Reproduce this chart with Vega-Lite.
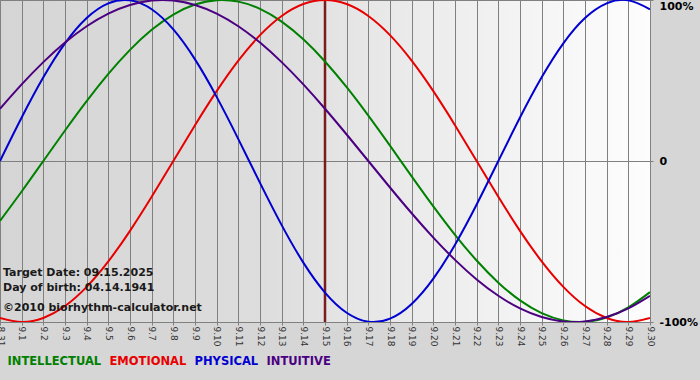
{
  "$schema": "https://vega.github.io/schema/vega-lite/v6.json",
  "width": 650,
  "height": 322,
  "autosize": {"type": "none"},
  "padding": {"left": 0, "top": 0, "right": 50, "bottom": 58},
  "background": "#d6d6d6",
  "config": {
    "view": {
      "stroke": "#808080",
      "strokeWidth": 1,
      "fill": {"gradient": "linear", "x1": 0, "y1": 0, "x2": 1, "y2": 0, "stops": [
        {"offset": 0, "color": "#d5d5d5"},
        {"offset": 0.4, "color": "#dddddd"},
        {"offset": 0.6, "color": "#e9e9e9"},
        {"offset": 0.85, "color": "#f6f6f6"},
        {"offset": 1, "color": "#fdfdfd"}
      ]}
    },
    "font": "DejaVu Sans"
  },
  "datasets": {
    "bio": [
      {"day":0,"cycle":"INTELLECTUAL","value":-0.3717},{"day":0,"cycle":"EMOTIONAL","value":-0.9749},{"day":0,"cycle":"PHYSICAL","value":0},{"day":0,"cycle":"INTUITIVE","value":0.3247},
      {"day":1,"cycle":"INTELLECTUAL","value":-0.1893},{"day":1,"cycle":"EMOTIONAL","value":-1},{"day":1,"cycle":"PHYSICAL","value":0.2698},{"day":1,"cycle":"INTUITIVE","value":0.4759},
      {"day":2,"cycle":"INTELLECTUAL","value":0},{"day":2,"cycle":"EMOTIONAL","value":-0.9749},{"day":2,"cycle":"PHYSICAL","value":0.5196},{"day":2,"cycle":"INTUITIVE","value":0.6142},
      {"day":3,"cycle":"INTELLECTUAL","value":0.1893},{"day":3,"cycle":"EMOTIONAL","value":-0.9010},{"day":3,"cycle":"PHYSICAL","value":0.7308},{"day":3,"cycle":"INTUITIVE","value":0.7357},
      {"day":4,"cycle":"INTELLECTUAL","value":0.3717},{"day":4,"cycle":"EMOTIONAL","value":-0.7818},{"day":4,"cycle":"PHYSICAL","value":0.8879},{"day":4,"cycle":"INTUITIVE","value":0.8372},
      {"day":5,"cycle":"INTELLECTUAL","value":0.5406},{"day":5,"cycle":"EMOTIONAL","value":-0.6235},{"day":5,"cycle":"PHYSICAL","value":0.9791},{"day":5,"cycle":"INTUITIVE","value":0.9158},
      {"day":6,"cycle":"INTELLECTUAL","value":0.6901},{"day":6,"cycle":"EMOTIONAL","value":-0.4339},{"day":6,"cycle":"PHYSICAL","value":0.9977},{"day":6,"cycle":"INTUITIVE","value":0.9694},
      {"day":7,"cycle":"INTELLECTUAL","value":0.8146},{"day":7,"cycle":"EMOTIONAL","value":-0.2225},{"day":7,"cycle":"PHYSICAL","value":0.9423},{"day":7,"cycle":"INTUITIVE","value":0.9966},
      {"day":8,"cycle":"INTELLECTUAL","value":0.9096},{"day":8,"cycle":"EMOTIONAL","value":0},{"day":8,"cycle":"PHYSICAL","value":0.8170},{"day":8,"cycle":"INTUITIVE","value":0.9966},
      {"day":9,"cycle":"INTELLECTUAL","value":0.9718},{"day":9,"cycle":"EMOTIONAL","value":0.2225},{"day":9,"cycle":"PHYSICAL","value":0.6311},{"day":9,"cycle":"INTUITIVE","value":0.9694},
      {"day":10,"cycle":"INTELLECTUAL","value":0.9989},{"day":10,"cycle":"EMOTIONAL","value":0.4339},{"day":10,"cycle":"PHYSICAL","value":0.3984},{"day":10,"cycle":"INTUITIVE","value":0.9158},
      {"day":11,"cycle":"INTELLECTUAL","value":0.9898},{"day":11,"cycle":"EMOTIONAL","value":0.6235},{"day":11,"cycle":"PHYSICAL","value":0.1362},{"day":11,"cycle":"INTUITIVE","value":0.8372},
      {"day":12,"cycle":"INTELLECTUAL","value":0.9450},{"day":12,"cycle":"EMOTIONAL","value":0.7818},{"day":12,"cycle":"PHYSICAL","value":-0.1362},{"day":12,"cycle":"INTUITIVE","value":0.7357},
      {"day":13,"cycle":"INTELLECTUAL","value":0.8660},{"day":13,"cycle":"EMOTIONAL","value":0.9010},{"day":13,"cycle":"PHYSICAL","value":-0.3984},{"day":13,"cycle":"INTUITIVE","value":0.6142},
      {"day":14,"cycle":"INTELLECTUAL","value":0.7557},{"day":14,"cycle":"EMOTIONAL","value":0.9749},{"day":14,"cycle":"PHYSICAL","value":-0.6311},{"day":14,"cycle":"INTUITIVE","value":0.4759},
      {"day":15,"cycle":"INTELLECTUAL","value":0.6182},{"day":15,"cycle":"EMOTIONAL","value":1},{"day":15,"cycle":"PHYSICAL","value":-0.8170},{"day":15,"cycle":"INTUITIVE","value":0.3247},
      {"day":16,"cycle":"INTELLECTUAL","value":0.4582},{"day":16,"cycle":"EMOTIONAL","value":0.9749},{"day":16,"cycle":"PHYSICAL","value":-0.9423},{"day":16,"cycle":"INTUITIVE","value":0.1646},
      {"day":17,"cycle":"INTELLECTUAL","value":0.2817},{"day":17,"cycle":"EMOTIONAL","value":0.9010},{"day":17,"cycle":"PHYSICAL","value":-0.9977},{"day":17,"cycle":"INTUITIVE","value":0},
      {"day":18,"cycle":"INTELLECTUAL","value":0.0951},{"day":18,"cycle":"EMOTIONAL","value":0.7818},{"day":18,"cycle":"PHYSICAL","value":-0.9791},{"day":18,"cycle":"INTUITIVE","value":-0.1646},
      {"day":19,"cycle":"INTELLECTUAL","value":-0.0951},{"day":19,"cycle":"EMOTIONAL","value":0.6235},{"day":19,"cycle":"PHYSICAL","value":-0.8879},{"day":19,"cycle":"INTUITIVE","value":-0.3247},
      {"day":20,"cycle":"INTELLECTUAL","value":-0.2817},{"day":20,"cycle":"EMOTIONAL","value":0.4339},{"day":20,"cycle":"PHYSICAL","value":-0.7308},{"day":20,"cycle":"INTUITIVE","value":-0.4759},
      {"day":21,"cycle":"INTELLECTUAL","value":-0.4582},{"day":21,"cycle":"EMOTIONAL","value":0.2225},{"day":21,"cycle":"PHYSICAL","value":-0.5196},{"day":21,"cycle":"INTUITIVE","value":-0.6142},
      {"day":22,"cycle":"INTELLECTUAL","value":-0.6182},{"day":22,"cycle":"EMOTIONAL","value":0},{"day":22,"cycle":"PHYSICAL","value":-0.2698},{"day":22,"cycle":"INTUITIVE","value":-0.7357},
      {"day":23,"cycle":"INTELLECTUAL","value":-0.7557},{"day":23,"cycle":"EMOTIONAL","value":-0.2225},{"day":23,"cycle":"PHYSICAL","value":0},{"day":23,"cycle":"INTUITIVE","value":-0.8372},
      {"day":24,"cycle":"INTELLECTUAL","value":-0.8660},{"day":24,"cycle":"EMOTIONAL","value":-0.4339},{"day":24,"cycle":"PHYSICAL","value":0.2698},{"day":24,"cycle":"INTUITIVE","value":-0.9158},
      {"day":25,"cycle":"INTELLECTUAL","value":-0.9450},{"day":25,"cycle":"EMOTIONAL","value":-0.6235},{"day":25,"cycle":"PHYSICAL","value":0.5196},{"day":25,"cycle":"INTUITIVE","value":-0.9694},
      {"day":26,"cycle":"INTELLECTUAL","value":-0.9898},{"day":26,"cycle":"EMOTIONAL","value":-0.7818},{"day":26,"cycle":"PHYSICAL","value":0.7308},{"day":26,"cycle":"INTUITIVE","value":-0.9966},
      {"day":27,"cycle":"INTELLECTUAL","value":-0.9989},{"day":27,"cycle":"EMOTIONAL","value":-0.9010},{"day":27,"cycle":"PHYSICAL","value":0.8879},{"day":27,"cycle":"INTUITIVE","value":-0.9966},
      {"day":28,"cycle":"INTELLECTUAL","value":-0.9718},{"day":28,"cycle":"EMOTIONAL","value":-0.9749},{"day":28,"cycle":"PHYSICAL","value":0.9791},{"day":28,"cycle":"INTUITIVE","value":-0.9694},
      {"day":29,"cycle":"INTELLECTUAL","value":-0.9096},{"day":29,"cycle":"EMOTIONAL","value":-1},{"day":29,"cycle":"PHYSICAL","value":0.9977},{"day":29,"cycle":"INTUITIVE","value":-0.9158},
      {"day":30,"cycle":"INTELLECTUAL","value":-0.8146},{"day":30,"cycle":"EMOTIONAL","value":-0.9749},{"day":30,"cycle":"PHYSICAL","value":0.9423},{"day":30,"cycle":"INTUITIVE","value":-0.8372}
    ],
    "target": [{"day": 15}]
  },
  "layer": [
    {
      "data": {"name": "target"},
      "mark": {"type": "rule", "color": "#7b1c1c", "strokeWidth": 2.5},
      "encoding": {
        "x": {"field": "day", "type": "quantitative"}
      }
    },
    {
      "data": {"name": "bio"},
      "mark": {"type": "line", "strokeWidth": 2, "interpolate": "natural", "clip": true},
      "encoding": {
        "x": {
          "field": "day", "type": "quantitative",
          "scale": {"domain": [0, 30], "nice": false, "zero": false},
          "axis": {
            "values": [0,1,2,3,4,5,6,7,8,9,10,11,12,13,14,15,16,17,18,19,20,21,22,23,24,25,26,27,28,29,30],
            "tickCount": 60,
            "labelExpr": "datum.value == 0 ? '8.31' : '9.' + datum.value",
            "labelAngle": 90,
            "labelFont": "DejaVu Sans",
            "labelFontSize": 9,
            "labelColor": "#333333",
            "labelPadding": 1,
            "labelFlush": false,
            "labelOverlap": false,
            "labelBound": false,
            "tickSize": 3,
            "tickColor": "#808080",
            "grid": true,
            "gridColor": "#808080",
            "gridOpacity": 1,
            "domain": false,
            "title": null
          }
        },
        "y": {
          "field": "value", "type": "quantitative",
          "scale": {"domain": [-1, 1], "nice": false, "zero": false},
          "axis": {
            "orient": "right",
            "values": [-1, 0, 1],
            "tickCount": 10,
            "labelExpr": "datum.value == 1 ? '100%' : (datum.value == 0 ? '0' : '-100%')",
            "labelFont": "DejaVu Sans",
            "labelFontSize": 11,
            "labelFontWeight": "bold",
            "labelColor": "#000000",
            "labelPadding": 6,
            "labelFlush": false,
            "labelBaseline": {"condition": {"test": "datum.value == 1", "value": "top"}, "value": "middle"},
            "tickSize": 3,
            "tickColor": "#808080",
            "grid": true,
            "gridColor": "#808080",
            "gridOpacity": 1,
            "domain": false,
            "title": null
          }
        },
        "color": {
          "field": "cycle", "type": "nominal",
          "scale": {
            "domain": ["INTELLECTUAL", "EMOTIONAL", "PHYSICAL", "INTUITIVE"],
            "range": ["#008000", "#e80000", "#0000d0", "#4b0082"]
          },
          "legend": {
            "orient": "none",
            "legendX": 8,
            "legendY": 356,
            "direction": "horizontal",
            "title": null,
            "symbolSize": 1,
            "symbolOpacity": 0,
            "symbolStrokeWidth": 0,
            "labelOffset": -12,
            "columnPadding": 7,
            "labelFont": "DejaVu Sans",
            "labelFontSize": 11.5,
            "labelFontWeight": "bold",
            "encode": {"labels": {"update": {"fill": {"signal": "scale('color', datum.value)"}}}}
          }
        }
      }
    },
    {
      "data": {"values": [{}]},
      "mark": {"type": "text", "text": "Target Date: 09.15.2025", "align": "left", "baseline": "alphabetic", "dx": 3, "font": "DejaVu Sans", "fontSize": 11, "fontWeight": "bold", "color": "#1a1a1a"},
      "encoding": {"x": {"datum": 0, "type": "quantitative"}, "y": {"datum": -0.714, "type": "quantitative"}}
    },
    {
      "data": {"values": [{}]},
      "mark": {"type": "text", "text": "Day of birth: 04.14.1941", "align": "left", "baseline": "alphabetic", "dx": 3, "font": "DejaVu Sans", "fontSize": 11, "fontWeight": "bold", "color": "#1a1a1a"},
      "encoding": {"x": {"datum": 0, "type": "quantitative"}, "y": {"datum": -0.8075, "type": "quantitative"}}
    },
    {
      "data": {"values": [{}]},
      "mark": {"type": "text", "text": "©2010 biorhythm-calculator.net", "align": "left", "baseline": "alphabetic", "dx": 3, "font": "DejaVu Sans", "fontSize": 11, "fontWeight": "bold", "color": "#1a1a1a"},
      "encoding": {"x": {"datum": 0, "type": "quantitative"}, "y": {"datum": -0.9317, "type": "quantitative"}}
    }
  ]
}
